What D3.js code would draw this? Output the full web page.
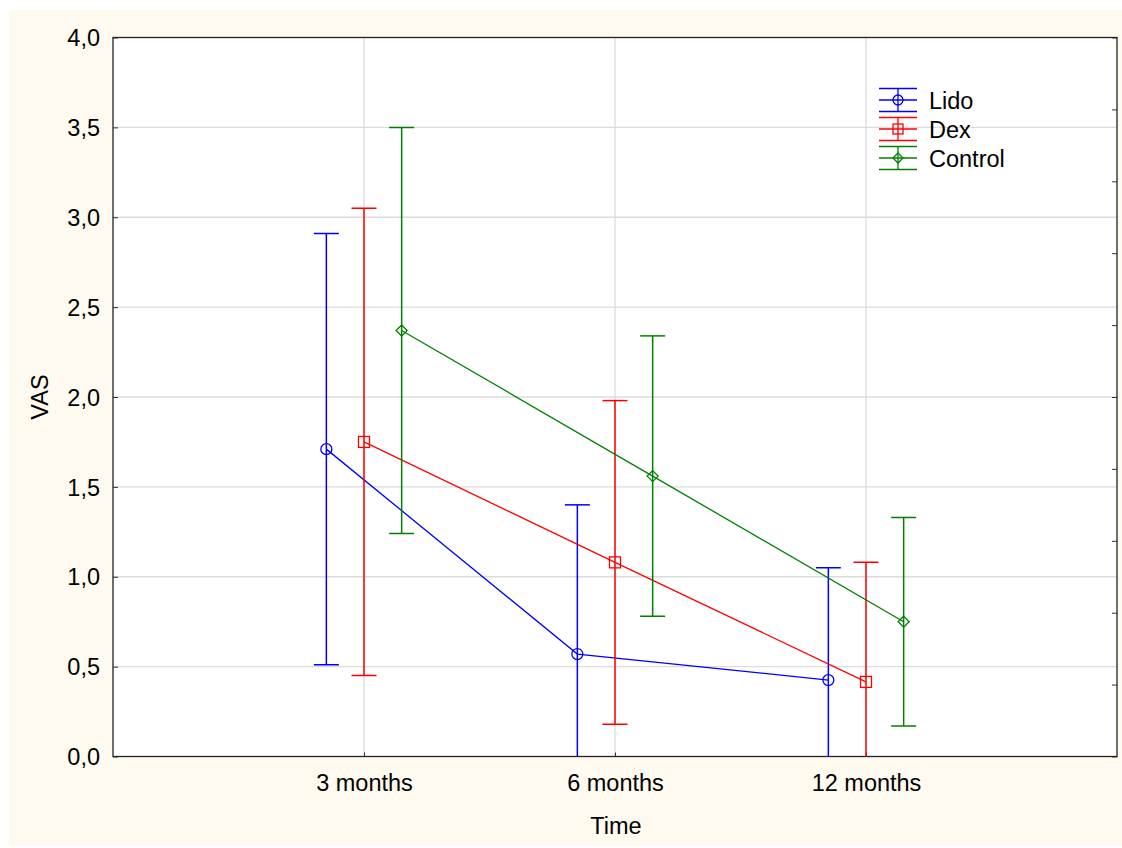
<!DOCTYPE html>
<html>
<head>
<meta charset="utf-8">
<script src="https://cdn.jsdelivr.net/npm/d3@7"></script>
<style>
  html, body { margin: 0; padding: 0; background: #ffffff; }
  svg { display: block; }
  text { font-family: "Liberation Sans", Arial, sans-serif; fill: #000; }
</style>
</head>
<body>
<svg id="chart" width="1122" height="848"></svg>
<script>
// ---- data ----
const categories = ["3 months", "6 months", "12 months"];
const seriesNames = ["Lido", "Dex", "Control"];
const seriesColors = ["#0000ff", "#ff0000", "#008000"];
const seriesSymbols = ["circle", "square", "diamond"];
const lidoMean  = [1.71, 0.57, 0.425];
const lidoLow   = [0.51, -0.26, -0.20];
const lidoHigh  = [2.91, 1.40, 1.05];
const dexMean   = [1.75, 1.08, 0.415];
const dexLow    = [0.45, 0.18, -0.25];
const dexHigh   = [3.05, 1.98, 1.08];
const ctrlMean  = [2.37, 1.56, 0.75];
const ctrlLow   = [1.24, 0.78, 0.17];
const ctrlHigh  = [3.50, 2.34, 1.33];
const yTicks = [0, 0.5, 1, 1.5, 2, 2.5, 3, 3.5, 4];
const yTicksRight = [0, 0.4, 0.8, 1.2, 1.6, 2.0, 2.4, 2.8, 3.2, 3.6, 4.0];
const seriesOffsets = [-0.15, 0, 0.15];

const series = [
  { mean: lidoMean, low: lidoLow, high: lidoHigh },
  { mean: dexMean, low: dexLow, high: dexHigh },
  { mean: ctrlMean, low: ctrlLow, high: ctrlHigh }
];

// ---- layout ----
const svg = d3.select("#chart");
const L = 113, R = 1117, T = 37.5, B = 756.5;
const fs = "23.5px";

svg.append("rect").attr("x", 9).attr("y", 10).attr("width", 1113).attr("height", 836).attr("fill", "#fefaef");
svg.append("rect").attr("x", L).attr("y", T).attr("width", R - L).attr("height", B - T).attr("fill", "#ffffff");

const x = d3.scaleLinear().domain([0, categories.length + 1]).range([L, R]);
const y = d3.scaleLinear().domain([0, 4]).range([B, T]);

svg.append("defs").append("clipPath").attr("id", "clip")
  .append("rect").attr("x", L).attr("y", T).attr("width", R - L).attr("height", B - T);

// grid
const grid = svg.append("g").attr("stroke", "#dcdcdc").attr("stroke-width", 1.3);
yTicks.slice(1, -1).forEach(v => {
  grid.append("line").attr("x1", L).attr("x2", R).attr("y1", y(v)).attr("y2", y(v));
});
categories.forEach((c, i) => {
  grid.append("line").attr("x1", x(i + 1)).attr("x2", x(i + 1)).attr("y1", T).attr("y2", B);
});

// axes
const yAxis = d3.axisLeft(y).tickValues(yTicks).tickSize(-5).tickPadding(13)
  .tickFormat(d => d3.format(".1f")(d).replace(".", ","));
const gy = svg.append("g").attr("transform", `translate(${L},0)`).call(yAxis);
gy.select(".domain").remove();
gy.selectAll("text").style("font-size", fs).attr("fill", "#000").attr("dy", "0.35em");
gy.selectAll("line").attr("stroke", "#333");

const yAxisR = d3.axisRight(y).tickValues(yTicksRight).tickSize(-5).tickFormat("");
const gyr = svg.append("g").attr("transform", `translate(${R},0)`).call(yAxisR);
gyr.select(".domain").remove();
gyr.selectAll("line").attr("stroke", "#333");

const xAxis = d3.axisBottom(x).tickValues(categories.map((c, i) => i + 1))
  .tickSize(-4).tickFormat((d) => categories[d - 1]);
const gx = svg.append("g").attr("transform", `translate(0,${B})`).call(xAxis);
gx.select(".domain").remove();
gx.selectAll("text").style("font-size", fs).attr("fill", "#000").attr("y", 34.5).attr("dy", 0);
gx.selectAll("line").attr("stroke", "#333");

// frame
svg.append("rect").attr("x", L).attr("y", T).attr("width", R - L).attr("height", B - T)
  .attr("fill", "none").attr("stroke", "#222").attr("stroke-width", 1.3);

// axis titles
svg.append("text").attr("x", (L + R) / 2 + 1).attr("y", 834).attr("text-anchor", "middle")
  .style("font-size", fs).text("Time");
svg.append("text").attr("transform", `translate(48,${(T + B) / 2}) rotate(-90)`)
  .attr("text-anchor", "middle").style("font-size", fs).text("VAS");

// symbols
function drawSymbol(g, type, cx, cy, color, size) {
  const s = size;
  if (type === "circle") {
    g.append("circle").attr("cx", cx).attr("cy", cy).attr("r", s / 2)
      .attr("fill", "none").attr("stroke", color).attr("stroke-width", 1.3);
  } else if (type === "square") {
    g.append("rect").attr("x", cx - s / 2).attr("y", cy - s / 2).attr("width", s).attr("height", s)
      .attr("fill", "none").attr("stroke", color).attr("stroke-width", 1.3);
  } else {
    const h = s / 2;
    g.append("path").attr("d", `M${cx},${cy - h}L${cx + h},${cy}L${cx},${cy + h}L${cx - h},${cy}Z`)
      .attr("fill", "none").attr("stroke", color).attr("stroke-width", 1.3);
  }
}

const plot = svg.append("g").attr("clip-path", "url(#clip)");
const cap = 12.5;
series.forEach((s, k) => {
  const color = seriesColors[k];
  const g = plot.append("g");
  const xs = categories.map((c, i) => x(i + 1 + seriesOffsets[k]));
  // error bars
  s.mean.forEach((m, i) => {
    const cx = xs[i];
    g.append("line").attr("x1", cx).attr("x2", cx).attr("y1", y(s.low[i])).attr("y2", y(s.high[i]))
      .attr("stroke", color).attr("stroke-width", 1.5);
    [s.low[i], s.high[i]].forEach(v => {
      if (v >= 0) g.append("line").attr("x1", cx - cap).attr("x2", cx + cap).attr("y1", y(v)).attr("y2", y(v))
        .attr("stroke", color).attr("stroke-width", 1.5);
    });
  });
  // line
  const line = d3.line().x((d, i) => xs[i]).y(d => y(d));
  g.append("path").datum(s.mean).attr("d", line).attr("fill", "none")
    .attr("stroke", color).attr("stroke-width", 1.3);
  s.mean.forEach((m, i) => drawSymbol(g, seriesSymbols[k], xs[i], y(m), color, 11));
});

// legend
const lg = svg.append("g");
const lx = 898, ly0 = 100, lstep = 29;
seriesNames.forEach((n, k) => {
  const cy = ly0 + k * lstep, color = seriesColors[k];
  lg.append("line").attr("x1", lx - 19).attr("x2", lx + 19).attr("y1", cy).attr("y2", cy).attr("stroke", color).attr("stroke-width", 1.3);
  lg.append("line").attr("x1", lx - 19).attr("x2", lx + 19).attr("y1", cy - 11.5).attr("y2", cy - 11.5).attr("stroke", color).attr("stroke-width", 1.3);
  lg.append("line").attr("x1", lx - 19).attr("x2", lx + 19).attr("y1", cy + 11.5).attr("y2", cy + 11.5).attr("stroke", color).attr("stroke-width", 1.3);
  lg.append("line").attr("x1", lx).attr("x2", lx).attr("y1", cy - 11.5).attr("y2", cy + 11.5).attr("stroke", color).attr("stroke-width", 1.3);
  drawSymbol(lg, seriesSymbols[k], lx, cy, color, 10);
  lg.append("text").attr("x", 929).attr("y", cy + 8.5).style("font-size", fs).text(n);
});
</script>
</body>
</html>
